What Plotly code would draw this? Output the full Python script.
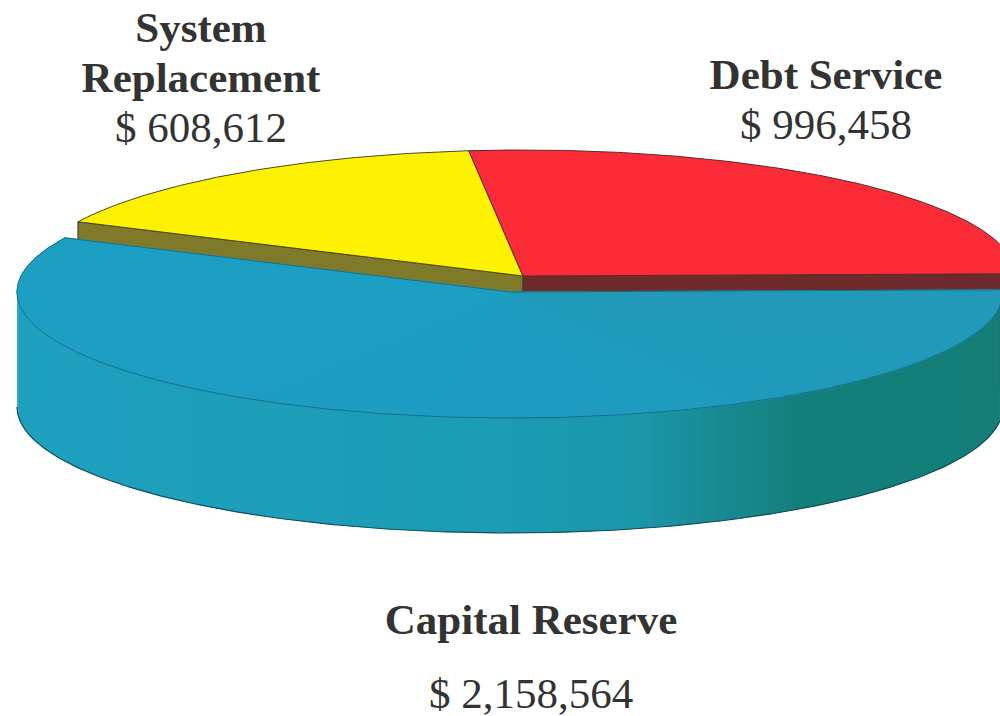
import numpy as np
import plotly.graph_objects as go

# Budget allocation
categories = ["Debt Service", "System Replacement", "Capital Reserve"]
amounts = [996458, 608612, 2158564]

# Pie geometry in page pixels
START_DEG = 1.0
RX, RY, DEPTH = 493.0, 126.0, 115.0
CENTER = (523.0, 276.0)
EXPLODED_CENTER = (510.0, 292.0)

TOP_COLORS = ["#fc2b38", "#fff200", "#1e9dc0"]
CUT_COLORS = ["#6f2a2c", "#7f7a2a"]
EDGE = "#3a3a30"
WALL_STOPS = [(17, "#1fa0bf"), (500, "#1b9cb4"), (650, "#1b95a8"),
              (720, "#188a92"), (800, "#14807c"), (1030, "#147d76")]
TOP_STOPS = [(17, "#1d9fc3"), (500, "#1d9cc0"), (1003, "#2299b8")]
TEXT_COLOR = "#333333"


def hex_rgb(h):
    return np.array([int(h[i:i + 2], 16) for i in (1, 3, 5)], dtype=float)


def ramp(stops, x):
    xs = [s[0] for s in stops]
    rgb = [np.interp(x, xs, [hex_rgb(s[1])[k] for s in stops]) for k in range(3)]
    return "rgb(%d,%d,%d)" % tuple(int(round(c)) for c in rgb)


def rim(center, t0, t1, dy=0.0):
    t = np.radians(np.linspace(t0, t1, max(int(abs(t1 - t0)) * 2, 2) + 1))
    # Screen y grows downward, so positive angles run over the far side of the disc
    return center[0] + RX * np.cos(t), center[1] - RY * np.sin(t) + dy


def polygon(x, y, fill, line=None, width=1.0):
    return go.Scatter(
        x=list(x), y=list(y), mode="lines", fill="toself", fillcolor=fill,
        line=dict(color=line or fill, width=width if line else 0),
        hoverinfo="skip", showlegend=False,
    )


def wedge(center, t0, t1, fill, line=EDGE):
    x, y = rim(center, t0, t1)
    return polygon(np.r_[center[0], x, center[0]], np.r_[center[1], y, center[1]], fill, line, 1.0)


def cut_face(center, t, fill):
    x, y = rim(center, t, t)
    x0, y0 = x[0], y[0]
    return polygon([center[0], x0, x0, center[0], center[0]],
                   [center[1], y0, y0 + DEPTH, center[1] + DEPTH, center[1]], fill, EDGE, 1.0)


spans = np.array(amounts) / sum(amounts) * 360.0
debt_end = START_DEG + spans[0]
system_end = debt_end + spans[1]
reserve_end = system_end + spans[2]

fig = go.Figure()

# Cut faces of the two rear slices; the pulled-out slice hides most of them
fig.add_trace(cut_face(CENTER, system_end, CUT_COLORS[1]))
fig.add_trace(cut_face(CENTER, START_DEG, CUT_COLORS[0]))
fig.add_trace(wedge(CENTER, debt_end, system_end, TOP_COLORS[1], "#4a4a20"))
fig.add_trace(wedge(CENTER, START_DEG, debt_end, TOP_COLORS[0], "#5a2a2a"))

# Outer wall of the pulled-out slice, shaded strip by strip
step = 1.0
for a in np.arange(180.0, 360.0, step):
    x, y = rim(EXPLODED_CENTER, a, a + step + 0.6)
    fig.add_trace(polygon(np.r_[x, x[::-1], x[0]],
                          np.r_[y, y[::-1] + DEPTH, y[0]],
                          ramp(WALL_STOPS, x.mean())))
bx, by = rim(EXPLODED_CENTER, 180.0, 360.0, DEPTH)
fig.add_trace(go.Scatter(x=bx, y=by, mode="lines", line=dict(color="#10505c", width=1.2),
                         hoverinfo="skip", showlegend=False))

# Top of the pulled-out slice: a faint left-to-right shift in fan sectors, then its outline
fan_step = 12.0
fig.add_trace(wedge(EXPLODED_CENTER, system_end, reserve_end, TOP_COLORS[2], TOP_COLORS[2]))
for a in np.arange(system_end, reserve_end, fan_step):
    a1 = min(a + fan_step + 1.0, reserve_end)
    x, y = rim(EXPLODED_CENTER, a, a1)
    fig.add_trace(polygon(np.r_[EXPLODED_CENTER[0], x, EXPLODED_CENTER[0]],
                          np.r_[EXPLODED_CENTER[1], y, EXPLODED_CENTER[1]],
                          ramp(TOP_STOPS, x.mean())))
ox, oy = rim(EXPLODED_CENTER, system_end, reserve_end)
fig.add_trace(go.Scatter(x=np.r_[EXPLODED_CENTER[0], ox, EXPLODED_CENTER[0]],
                         y=np.r_[EXPLODED_CENTER[1], oy, EXPLODED_CENTER[1]],
                         mode="lines", line=dict(color="#14708c", width=1.0),
                         hoverinfo="skip", showlegend=False))

labels = [
    (826, 78, f"<b>{categories[0]}</b>"),
    (826, 128, f"$ {amounts[0]:,}"),
    (201, 31, "<b>System</b>"),
    (201, 81, "<b>Replacement</b>"),
    (201, 131, f"$ {amounts[1]:,}"),
    (531, 623, f"<b>{categories[2]}</b>"),
    (531, 697, f"$ {amounts[2]:,}"),
]
fig.add_trace(go.Scatter(
    x=[l[0] for l in labels], y=[l[1] for l in labels], text=[l[2] for l in labels],
    mode="text", textposition="middle center", cliponaxis=False,
    textfont=dict(family="Liberation Serif", size=43, color=TEXT_COLOR),
    hoverinfo="skip", showlegend=False,
))

fig.update_layout(
    width=1000, height=716, margin=dict(l=0, r=0, t=0, b=0),
    paper_bgcolor="white", plot_bgcolor="white", showlegend=False,
    xaxis=dict(range=[0, 1000], visible=False, fixedrange=True),
    yaxis=dict(range=[716, 0], visible=False, fixedrange=True),
)
fig.write_html("out.html", config={"displayModeBar": False})
